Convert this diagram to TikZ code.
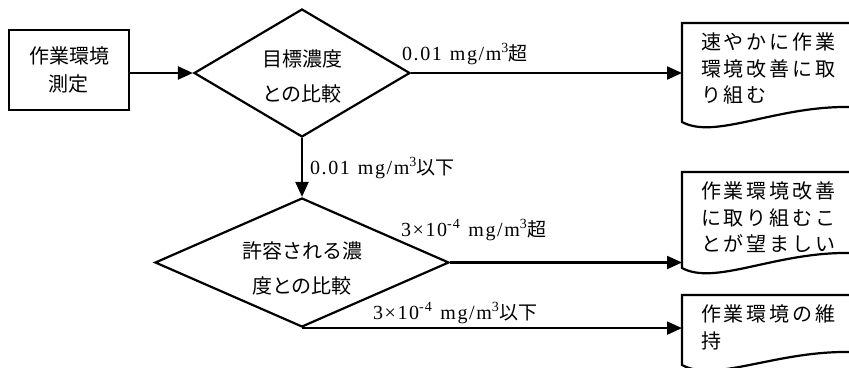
\documentclass[tikz,border=0pt]{standalone}
\usepackage{fontspec}
\setmainfont{Liberation Serif}
\newfontfamily\jp{Noto Sans CJK JP}
\newfontfamily\jpls{Noto Sans CJK JP}[LetterSpace=14]
\newfontfamily\lab{Liberation Serif}[LetterSpace=8]
\newcommand{\jplab}[1]{{\jp\fontsize{19}{20}\selectfont #1}}
\usetikzlibrary{shapes.geometric,arrows.meta}
\begin{document}
\begin{tikzpicture}[x=1pt,y=-1pt,line width=2.2pt,
  arr/.style={-{Triangle[length=15pt,width=13pt]}},
  boxnode/.style={draw,minimum width=120pt,minimum height=80pt,inner sep=0pt,align=center,
    font=\jp\fontsize{20}{28}\selectfont},
  dia/.style={draw,diamond,inner sep=0pt},
  diatext/.style={inner sep=0pt,align=center,font=\jp\fontsize{20}{35}\selectfont},
  docnode/.style={inner xsep=18pt,inner ysep=9pt,align=left,anchor=north west,
    font=\jpls\fontsize{20}{26.5}\selectfont},
  lab/.style={inner sep=0pt,anchor=west,font=\lab\fontsize{20}{22}\selectfont}]
\useasboundingbox (0,0) rectangle (849,367);
\clip (0,0) rectangle (849,367);
% nodes
\node[boxnode] (meas) at (69,70) {作業環境\\測定};
\node[dia,minimum width=216pt,minimum height=128pt] (d1) at (302,73) {};
\node[diatext] (t1) at (302,76) {目標濃度\\との比較};
\node[dia,minimum width=294pt,minimum height=129pt] (d2) at (302,262.5) {};
\node[diatext] (t2) at (302,268) {許容される濃\\度との比較};
\node[docnode] (doc1) at (682,23) {速やかに作業\\環境改善に取\\り組む};
\node[docnode] (doc2) at (682,172) {作業環境改善\\に取り組むこ\\とが望ましい};
\node[docnode] (doc3) at (682,295) {作業環境の維\\持};
% document outlines
\draw (849,23) -- (682,23) -- (682,122) .. controls (715,140) and (775,106) .. (849,107);
\draw (849,172) -- (682,172) -- (682,268) .. controls (715,286) and (775,252) .. (849,253);
\draw (849,295) -- (682,295) -- (682,365) .. controls (715,383) and (775,351) .. (849,352);
% connectors
\draw[arr] (meas.east |- d1.west) -- (d1.west);
\draw[arr] (d1.east) -- (d1.east -| doc1.west);
\draw[arr] (d1.south) -- (d2.north);
\draw[arr] (d2.east) -- (d2.east -| doc2.west);
\draw[arr] (d2.south) -- (d2.south -| doc3.west);
% labels
\node[lab] (l1) at (401,54) {0.01\hspace{8pt}mg/m\textsuperscript{3}\jplab{超}};
\node[lab] (l2) at (309,168) {0.01\hspace{8pt}mg/m\textsuperscript{3}\jplab{以下}};
\node[lab] (l3) at (400,230) {3×10\textsuperscript{-4}\hspace{8pt}mg/m\textsuperscript{3}\jplab{超}};
\node[lab] (l4) at (372,313) {3×10\textsuperscript{-4}\hspace{8pt}mg/m\textsuperscript{3}\jplab{以下}};
\end{tikzpicture}
\end{document}
